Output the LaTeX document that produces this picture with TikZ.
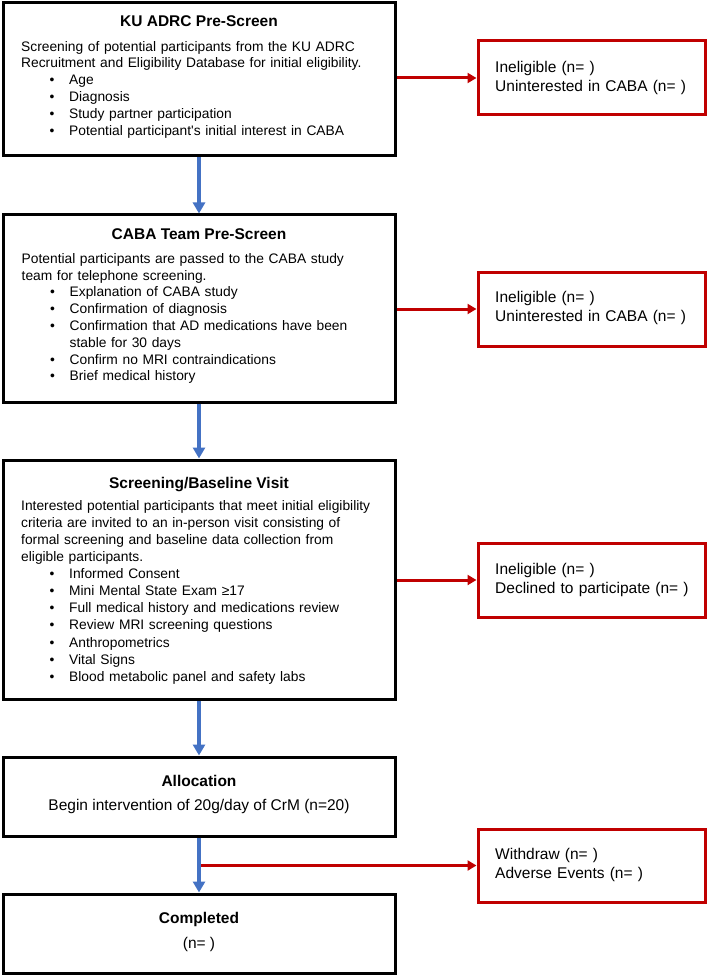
\documentclass[tikz,border=0pt]{standalone}
\usepackage{fontspec}
\setmainfont{Liberation Sans}
\usetikzlibrary{arrows.meta}
\definecolor{flowblue}{HTML}{4472C4}
\definecolor{flowred}{HTML}{C00000}
\newcommand\bli{\hspace*{28.5pt}\makebox[19.5pt][l]{\textbullet}}
\newcommand\blcont{\hspace*{48pt}}
\begin{document}
\begin{tikzpicture}[x=1pt,y=-1pt,
 blk/.style={draw=black, line width=3pt, minimum width=392pt, inner sep=0pt},
 redbox/.style={draw=flowred, line width=3pt, minimum width=227pt, minimum height=74pt, inner sep=0pt},
 titletext/.style={font=\fontsize{15.5}{18}\selectfont\bfseries, anchor=base, inner sep=0pt},
 bodytext/.style={font=\fontsize{13.8}{16.8}\selectfont, anchor=north west, align=left, text width=375pt, inner sep=0pt},
 redtext/.style={font=\fontsize{15.5}{19.5}\selectfont, anchor=north west, align=left, text width=200pt, inner sep=0pt},
 midtext/.style={font=\fontsize{15.5}{18}\selectfont, anchor=base, inner sep=0pt},
 bluearrow/.style={draw=flowblue, line width=4.5pt, -{Triangle[length=11pt,width=12pt]}},
 redarrow/.style={draw=flowred, line width=3pt, -{Triangle[length=9pt,width=10pt]}}]
\useasboundingbox (0,0) rectangle (708,976);

% main boxes
\node[blk, minimum height=153pt] (b1) at (199,79.5) {};
\node[blk, minimum height=187pt] (b2) at (199,308.5) {};
\node[blk, minimum height=239pt] (b3) at (199,579.5) {};
\node[blk, minimum height=79pt] (b4) at (199,796.5) {};
\node[blk, minimum height=79pt] (b5) at (199,933.5) {};

% exclusion boxes
\node[redbox] (r1) at (591.5,78) {};
\node[redbox] (r2) at (591.5,309) {};
\node[redbox] (r3) at (591.5,580) {};
\node[redbox, minimum height=73pt] (r4) at (591.5,865.5) {};

% box 1 text
\node[titletext] (t1) at (199,27) {KU ADRC Pre-Screen};
\node[bodytext] (x1) at (21,39) {\rule{0pt}{12pt}Screening of potential participants from the KU ADRC\\
Recruitment and Eligibility Database for initial eligibility.\\
\bli Age\\
\bli Diagnosis\\
\bli Study partner participation\\
\bli Potential participant\textquotesingle s initial interest in CABA};

% box 2 text
\node[titletext] (t2) at (199,240) {CABA Team Pre-Screen};
\node[bodytext] (x2) at (21.5,251) {\rule{0pt}{12pt}Potential participants are passed to the CABA study\\
team for telephone screening.\\
\bli Explanation of CABA study\\
\bli Confirmation of diagnosis\\
\bli Confirmation that AD medications have been\\
\blcont stable for 30 days\\
\bli Confirm no MRI contraindications\\
\bli Brief medical history};

% box 3 text
\node[titletext] (t3) at (199,488) {Screening/Baseline Visit};
\node[bodytext, font=\fontsize{13.8}{17.1}\selectfont] (x3) at (21,498) {\rule{0pt}{12pt}Interested potential participants that meet initial eligibility\\
criteria are invited to an in-person visit consisting of\\
formal screening and baseline data collection from\\
eligible participants.\\
\bli Informed Consent\\
\bli Mini Mental State Exam ≥17\\
\bli Full medical history and medications review\\
\bli Review MRI screening questions\\
\bli Anthropometrics\\
\bli Vital Signs\\
\bli Blood metabolic panel and safety labs};

% box 4 and 5 text
\node[titletext] (t4) at (199,786) {Allocation};
\node[midtext] (x4) at (199,810) {Begin intervention of 20g/day of CrM (n=20)};
\node[titletext] (t5) at (199,923) {Completed};
\node[midtext] (x5) at (199,948) {(n= )};

% exclusion texts
\node[redtext] (y1) at (495,59) {\rule{0pt}{13pt}Ineligible (n= )\\Uninterested in CABA (n= )};
\node[redtext] (y2) at (495,289) {\rule{0pt}{13pt}Ineligible (n= )\\Uninterested in CABA (n= )};
\node[redtext] (y3) at (495,561) {\rule{0pt}{13pt}Ineligible (n= )\\Declined to participate (n= )};
\node[redtext] (y4) at (495,846) {\rule{0pt}{13pt}Withdraw (n= )\\Adverse Events (n= )};

% connectors
\draw[redarrow] (b1.east |- r1.west) -- (r1.west);
\draw[redarrow] (b2.east |- r2.west) -- (r2.west);
\draw[redarrow] (b3.east |- r3.west) -- (r3.west);
\coordinate (br) at (b4.south |- r4.west);
\draw[redarrow] (br) -- (r4.west);

\draw[bluearrow] (b1.south) -- (b2.north);
\draw[bluearrow] (b2.south) -- (b3.north);
\draw[bluearrow] (b3.south) -- (b4.north);
\draw[bluearrow] (b4.south) -- (b5.north);
\end{tikzpicture}
\end{document}
